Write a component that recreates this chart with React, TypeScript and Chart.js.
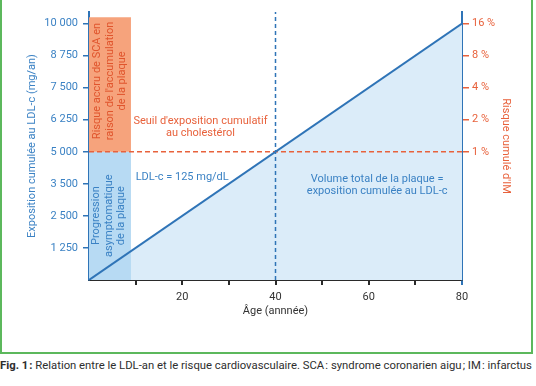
import React, { useEffect, useRef } from "react";
import { Chart, registerables } from "chart.js";

Chart.register(...registerables);

// ---- data ----
const lineAges = [0, 80];
const lineExposure = [0, 10000];
const thresholdExposure = 5000;
const markerAge = 40;
const zoneAgeEnd = 9;
const zoneTop = 10250;
const axisMax = 10450;
const xTickValues = [10, 20, 30, 40, 50, 60, 70, 80];
const xTickLabels = ["", "20", "", "40", "", "60", "", "80"];
const leftTickValues = [1250, 2500, 3750, 5000, 6250, 7500, 8750, 10000];
const leftTickLabels = ["1 250", "2 500", "3 500", "5 000", "6 250", "7 500", "8 750", "10 000"];
const riskTickValues = [5000, 6250, 7500, 8750, 10000];
const riskTickLabels = ["1 %", "2 %", "4 %", "8 %", "16 %"];

const BLUE = "#2f74b7";
const BLUE_TXT = "#3b82c4";
const ORANGE = "#e8623c";
const ORANGE_ZONE = "#f6a37c";
const BLUE_ZONE = "#b7daf3";
const BLUE_FILL = "#dbecf9";
const DARK = "#2a2a2a";
const FONT = "Roboto";

type Note = { lines: string[]; x: number; y: number; color: string; rotate?: boolean; align?: CanvasTextAlign };
const notes: Note[] = [
  { lines: ["Risque accru de SCA en", "raison de l'accumulation", "de la plaque"], x: 4.5, y: 7760, color: "#e0552d", rotate: true },
  { lines: ["Progression", "asymptomatique", "de la plaque"], x: 4.3, y: 2510, color: BLUE_TXT, rotate: true },
  { lines: ["Seuil d'exposition cumulatif", "au cholestérol"], x: 23.9, y: 5960, color: ORANGE },
  { lines: ["LDL-c = 125 mg/dL"], x: 10, y: 4000, color: BLUE_TXT, align: "left" },
  { lines: ["Volume total de la plaque =", "exposition cumulée au LDL-c"], x: 61.8, y: 3700, color: BLUE_TXT },
];

const notesPlugin = {
  id: "notes",
  afterDatasetsDraw(chart: any) {
    const { ctx, scales } = chart;
    ctx.save();
    ctx.font = `11px ${FONT}`;
    ctx.textBaseline = "middle";
    for (const n of notes) {
      const lh = n.rotate ? 12.4 : 12;
      const px = scales.x.getPixelForValue(n.x);
      const py = scales.y.getPixelForValue(n.y);
      ctx.fillStyle = n.color;
      ctx.textAlign = n.align || "center";
      ctx.save();
      ctx.translate(px, py);
      if (n.rotate) ctx.rotate(-Math.PI / 2);
      const off = ((n.lines.length - 1) * lh) / 2;
      n.lines.forEach((l, i) => ctx.fillText(l, 0, i * lh - off));
      ctx.restore();
    }
    ctx.restore();
  },
};

export default function App() {
  const ref = useRef<HTMLCanvasElement>(null);
  useEffect(() => {
    const linePts = lineAges.map((a, i) => ({ x: a, y: lineExposure[i] }));
    const chart = new Chart(ref.current!, {
      type: "line",
      data: {
        datasets: [
          { data: linePts, borderColor: BLUE, borderWidth: 2, pointRadius: 0, fill: false, order: 0 },
          {
            data: [{ x: 0, y: thresholdExposure }, { x: 80, y: thresholdExposure }],
            borderColor: ORANGE, borderWidth: 1.5, borderDash: [5, 3], pointRadius: 0, fill: false, order: 1,
          },
          {
            data: [{ x: markerAge, y: 0 }, { x: markerAge, y: axisMax }],
            borderColor: BLUE, borderWidth: 1.5, borderDash: [4, 3], pointRadius: 0, fill: false, order: 2,
          },
          {
            data: [{ x: 0, y: zoneTop }, { x: zoneAgeEnd, y: zoneTop }],
            borderWidth: 0, pointRadius: 0, backgroundColor: ORANGE_ZONE, fill: { value: thresholdExposure }, order: 3,
          },
          {
            data: [{ x: 0, y: thresholdExposure }, { x: zoneAgeEnd, y: thresholdExposure }],
            borderWidth: 0, pointRadius: 0, backgroundColor: BLUE_ZONE, fill: "origin", order: 4,
          },
          { data: linePts, borderWidth: 0, pointRadius: 0, backgroundColor: BLUE_FILL, fill: "origin", order: 5 },
        ] as any,
      },
      options: {
        animation: false,
        responsive: false,
        devicePixelRatio: 1,
        layout: { padding: { top: 12, left: 0, right: 0, bottom: 0 } },
        plugins: { legend: { display: false }, tooltip: { enabled: false } },
        scales: {
          x: {
            type: "linear", min: 0, max: 80, position: "bottom",
            afterBuildTicks: (s: any) => { s.ticks = xTickValues.map((v) => ({ value: v })); },
            afterFit: (s: any) => { s.height = 72; },
            ticks: {
              color: "#333", font: { family: FONT, size: 11 }, padding: 6, maxRotation: 0, autoSkip: false,
              callback: (v: any) => xTickLabels[xTickValues.indexOf(Number(v))] ?? "",
            },
            grid: {
              drawOnChartArea: false, tickLength: 5, lineWidth: 2,
              color: (c: any) => (c.tick && c.tick.value === 80 ? BLUE : DARK),
            },
            border: { color: DARK, width: 2 },
            title: { display: true, text: "Âge (annnée)", color: "#333", font: { family: FONT, size: 11 }, padding: { top: 0, bottom: 34 } },
          },
          y: {
            type: "linear", min: 0, max: axisMax, position: "left",
            afterBuildTicks: (s: any) => { s.ticks = leftTickValues.map((v) => ({ value: v })); },
            afterFit: (s: any) => { s.width = 89; },
            ticks: {
              color: BLUE_TXT, font: { family: FONT, size: 11 }, padding: 5, autoSkip: false,
              callback: (v: any) => leftTickLabels[leftTickValues.indexOf(Number(v))] ?? "",
            },
            grid: { drawOnChartArea: false, tickLength: 6, lineWidth: 1.5, color: BLUE },
            border: { color: BLUE, width: 2 },
            title: { display: true, text: "Exposition cumulée au LDL-c (mg/an)", color: BLUE_TXT, font: { family: FONT, size: 11 }, padding: { top: 26, bottom: 0 } },
          },
          y2: {
            type: "linear", min: 0, max: axisMax, position: "right",
            afterBuildTicks: (s: any) => { s.ticks = riskTickValues.map((v) => ({ value: v })); },
            afterFit: (s: any) => { s.width = 74; },
            ticks: {
              color: ORANGE, font: { family: FONT, size: 11 }, padding: 3, autoSkip: false,
              callback: (v: any) => riskTickLabels[riskTickValues.indexOf(Number(v))] ?? "",
            },
            grid: { drawOnChartArea: false, tickLength: 7, lineWidth: 1.5, color: ORANGE },
            border: { color: BLUE, width: 2 },
            title: { display: true, text: "Risque cumulé d'IM", color: ORANGE, font: { family: FONT, size: 11 }, padding: { top: 24, bottom: 0 } },
          },
        },
      } as any,
      plugins: [notesPlugin],
    });
    return () => chart.destroy();
  }, []);

  return (
    <div style={{ position: "fixed", left: 0, top: 0, width: 536, height: 386, background: "#fff", overflow: "hidden", fontFamily: FONT }}>
      <div style={{ position: "absolute", left: 0, top: -4, width: 533, height: 358, boxSizing: "border-box", border: "2px solid #5cb85c" }} />
      <canvas ref={ref} width={536} height={352} style={{ position: "absolute", left: 0, top: 0, width: 536, height: 352 }} />
      <div style={{ position: "absolute", left: 0, top: 359, whiteSpace: "nowrap", fontSize: 11.3, color: "#2e2e2e" }}>
        <b>Fig. 1&#8202;:</b> Relation entre le LDL-an et le risque cardiovasculaire. SCA&#8202;: syndrome coronarien aigu&#8202;; IM&#8202;: infarctus
      </div>
    </div>
  );
}
